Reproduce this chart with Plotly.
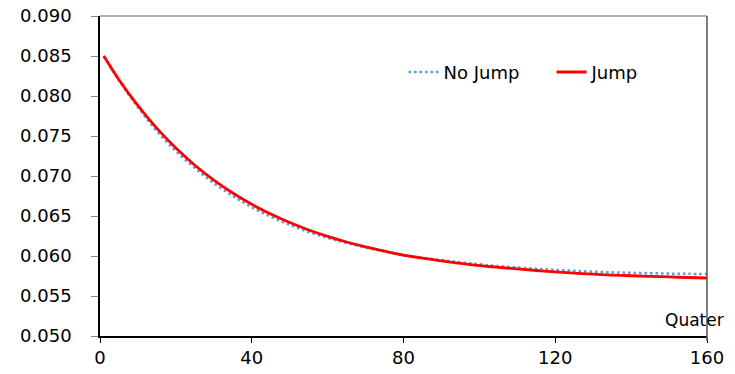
import plotly.graph_objects as go

quarters = [1, 5, 10, 15, 20, 25, 30, 35, 40, 45, 50, 55, 60, 65, 70, 75, 80,
            85, 90, 95, 100, 105, 110, 115, 120, 125, 130, 135, 140, 145, 150, 155, 160]

jump = [0.0850, 0.08204, 0.07879, 0.07595, 0.07349, 0.07135, 0.06949, 0.06787,
        0.06646, 0.06524, 0.06418, 0.06325, 0.06245, 0.06175, 0.06114, 0.06061,
        0.06012, 0.05972, 0.05938, 0.05907, 0.05880, 0.05858, 0.05838, 0.05819,
        0.05802, 0.05787, 0.05773, 0.05762, 0.05753, 0.05745, 0.05738, 0.05731, 0.05725]

no_jump = [0.0850, 0.08194, 0.07859, 0.07560, 0.07310, 0.07100, 0.06910, 0.06750,
           0.06610, 0.06490, 0.06390, 0.06300, 0.06227, 0.06163, 0.06106, 0.06058,
           0.06008, 0.05978, 0.05950, 0.05922, 0.05896, 0.05874, 0.05856, 0.05840,
           0.05827, 0.05815, 0.05804, 0.05796, 0.05790, 0.05785, 0.05780, 0.05777, 0.05775]

x_ticks = [0, 40, 80, 120, 160]
y_ticks = [0.050, 0.055, 0.060, 0.065, 0.070, 0.075, 0.080, 0.085, 0.090]

FONT = "DejaVu Sans"

fig = go.Figure()
fig.add_trace(go.Scatter(
    x=quarters, y=no_jump, mode="lines", name="No Jump",
    line=dict(color="#5B9BD5", width=2.5, dash="2.5px,3px", shape="spline"),
))
fig.add_trace(go.Scatter(
    x=quarters, y=jump, mode="lines", name="Jump",
    line=dict(color="#FF0000", width=2.8, shape="spline"),
))

fig.update_layout(
    width=735, height=374,
    margin=dict(l=100, r=28, t=16, b=38, autoexpand=False),
    paper_bgcolor="white", plot_bgcolor="white",
    font=dict(family=FONT, size=18, color="black"),
    showlegend=True,
    legend=dict(orientation="h", x=0.5, xanchor="left", y=0.824, yanchor="middle",
                bgcolor="rgba(0,0,0,0)", font=dict(family=FONT, size=18, color="black"),
                entrywidth=103, entrywidthmode="pixels", tracegroupgap=0),
    xaxis=dict(range=[0, 160], tickvals=x_ticks, ticktext=[str(v) for v in x_ticks],
               showgrid=False, zeroline=False, showline=True, linecolor="black",
               linewidth=1.5, ticks="outside", ticklen=5, tickcolor="black",
               tickfont=dict(family=FONT, size=18, color="black"),
               ticklabelstandoff=0, automargin=False),
    yaxis=dict(range=[0.050, 0.090], tickvals=y_ticks, tickformat=".3f",
               showgrid=False, zeroline=False, showline=True, linecolor="black",
               linewidth=1.5, ticks="outside", ticklen=7, tickcolor="#888888",
               tickfont=dict(family=FONT, size=18, color="black"),
               ticklabelstandoff=16, automargin=False),
    shapes=[
        dict(type="line", xref="x domain", yref="y domain", x0=0, x1=1, y0=1, y1=1,
             line=dict(color="#999999", width=1.5)),
        dict(type="line", xref="x domain", yref="y domain", x0=1, x1=1, y0=-0.015, y1=1,
             line=dict(color="#555555", width=1.5)),
    ],
    annotations=[
        dict(text="Quater", xref="paper", yref="paper", x=0.9786, y=0.05,
             xanchor="center", yanchor="middle", showarrow=False,
             font=dict(family=FONT, size=17, color="black")),
    ],
)

fig.write_html("out.html")
